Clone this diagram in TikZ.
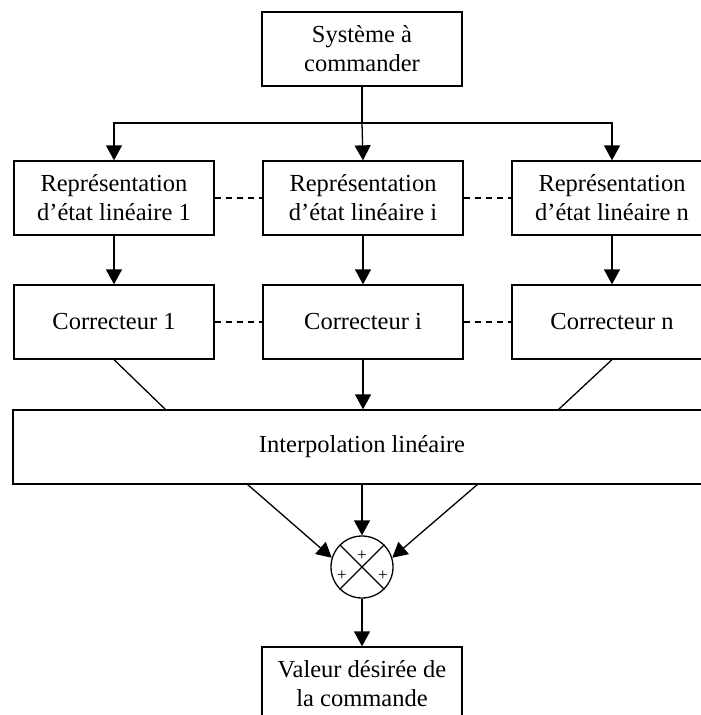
\documentclass[tikz,border=0pt]{standalone}
\usepackage{fontspec}
\setmainfont{Liberation Serif}
\usepackage{tikz}
\usetikzlibrary{arrows.meta,positioning,calc}
\tikzset{
bloc/.style = {rectangle, draw=black, line width=1.3pt, align=center,
minimum width=200pt, minimum height=74pt, inner sep=0pt,
font=\fontsize{24.5}{29}\selectfont},% bloc standard
bloc_l/.style = {bloc, minimum width=698pt},% bloc interpolation
somme/.style = {circle, draw=black, line width=1.3pt, minimum size=62pt, inner sep=0pt},% sommateur
fleche/.style = {line width=1.3pt, -{Triangle[length=15pt,width=16pt]}},
trait/.style = {line width=1.3pt},
pointille/.style = {line width=1.3pt, dash pattern=on 6pt off 5pt},
signe/.style = {font=\fontsize{17}{17}\selectfont, inner sep=0pt}
}
\begin{document}
\begin{tikzpicture}[x=1pt, y=-1pt]
  \clip (0,0) rectangle (701,715);
  % systeme
  \node [bloc] (sys) at (362,49) {Système à\\commander};
  % representations d'etat
  \node [bloc] (rep1) at (114,198) {Représentation\\d’état linéaire 1};
  \node [bloc] (repi) at (363,198) {Représentation\\d’état linéaire i};
  \node [bloc] (repn) at (612,198) {Représentation\\d’état linéaire n};
  % correcteurs
  \node [bloc] (cor1) at (114,322) {Correcteur 1};
  \node [bloc] (cori) at (363,322) {Correcteur i};
  \node [bloc] (corn) at (612,322) {Correcteur n};
  % interpolation
  \node [bloc_l] (interp) at (362,447) {Interpolation linéaire};
  \node [somme] (som) at (362,567) {};
  \node [bloc] (val) at (362,684) {Valeur désirée de\\la commande};
  \node [signe] (p1) at (362,556) {+};
  \node [signe] (p2) at (342,576) {+};
  \node [signe] (p3) at (383,576) {+};
  \coordinate (split) at (362,123);
  \coordinate (in1) at (166,410);
  \coordinate (inn) at (558,410);
  \coordinate (out1) at (247,484);
  \coordinate (outn) at (478,484);

  \draw [trait] (som.north west) -- (som.south east);
  \draw [trait] (som.north east) -- (som.south west);
  \draw [trait] (sys.south) -- (split);
  \draw [fleche] (split) -| (rep1.north);
  \draw [fleche] (split) -| (repn.north);
  \draw [fleche] (split) -- (repi.north);
  \draw [pointille] (rep1.east) -- (repi.west);
  \draw [pointille] (repi.east) -- (repn.west);
  \draw [fleche] (rep1.south) -- (cor1.north);
  \draw [fleche] (repi.south) -- (cori.north);
  \draw [fleche] (repn.south) -- (corn.north);
  \draw [pointille] (cor1.east) -- (cori.west);
  \draw [pointille] (cori.east) -- (corn.west);
  \draw [trait] (cor1.south) -- (in1);
  \draw [fleche] (cori.south) -- (interp.north -| cori);
  \draw [trait] (corn.south) -- (inn);
  \draw [fleche] (out1) -- (som.163);
  \draw [fleche] (interp.south -| som) -- (som.north);
  \draw [fleche] (outn) -- (som.17);
  \draw [fleche] (som.south) -- (val.north);
\end{tikzpicture}
\end{document}
